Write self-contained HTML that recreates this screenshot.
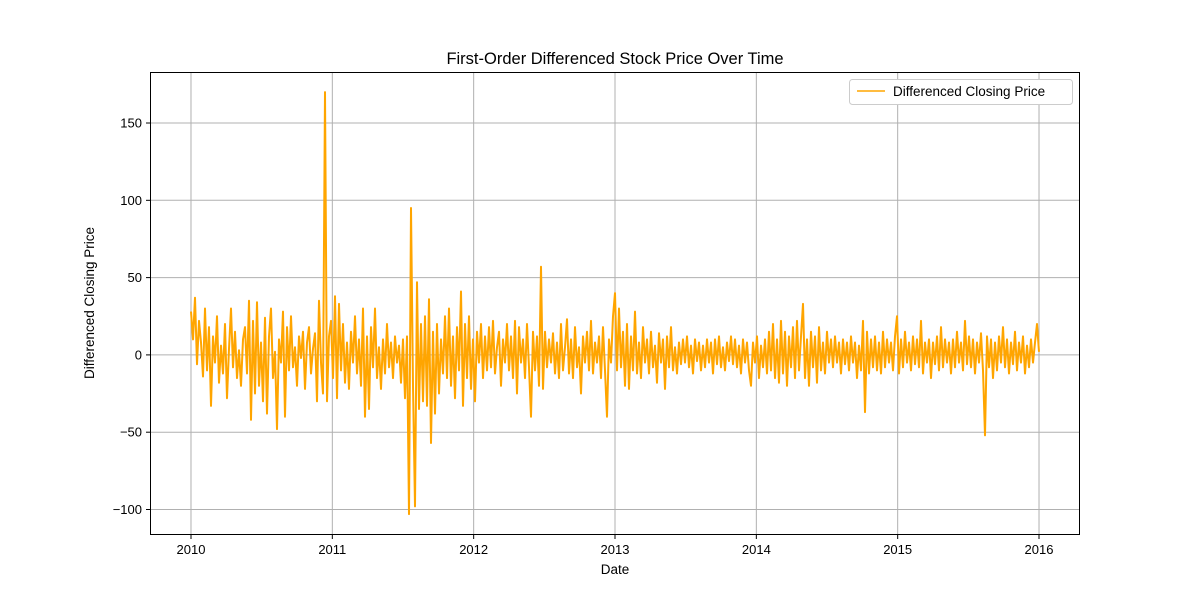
<!DOCTYPE html>
<html><head><meta charset="utf-8"><style>
body{margin:0;background:#fff}
svg text{font-family:"Liberation Sans","DejaVu Sans",sans-serif;fill:#000}
</style></head><body>
<svg id="chart" width="1200" height="600" xmlns="http://www.w3.org/2000/svg">
<rect width="1200" height="600" fill="#fff"/>
<g id="grid"></g>
<g id="series"></g>
<rect x="150.5" y="72.5" width="929" height="462" fill="none" stroke="#000" stroke-width="1"/>
<g id="axes"></g>
<text x="615" y="64" font-size="16.5" text-anchor="middle">First-Order Differenced Stock Price Over Time</text>
<text x="615" y="574" font-size="13.5" text-anchor="middle">Date</text>
<text transform="translate(94,303) rotate(-90)" font-size="13.5" text-anchor="middle">Differenced Closing Price</text>
<g>
<rect x="849.5" y="79.5" width="223" height="25" rx="3" fill="#fff" stroke="#ccc"/>
<line x1="857" y1="91" x2="885" y2="91" stroke="orange" stroke-width="1.5"/>
<text x="893" y="96" font-size="13.5">Differenced Closing Price</text>
</g>
</svg>
<script>
const values=[28,10,37,-6,22,8,-14,30,-10,18,
-33,12,-5,25,-18,6,-12,20,-28,4,
30,-8,15,-15,3,-20,10,18,-12,35,
-42,22,-25,34,-20,8,-30,24,-38,12,
30,-15,2,-48,10,-5,28,-40,18,-10,
25,-8,5,-20,12,-2,15,-22,8,18,
-12,4,14,-30,35,-5,-25,170,-30,12,
22,-15,38,-28,33,-10,20,-18,8,-22,
15,-5,25,-12,10,-20,30,-40,12,-35,
18,-8,30,-15,5,-22,10,-12,20,-8,
8,-15,12,-5,6,-18,10,-28,12,-103,
95,-20,-98,47,-35,20,-30,25,-33,36,
-57,15,-38,20,-25,10,-12,25,-15,30,
-20,12,-28,18,-10,41,-33,20,-15,25,
-22,10,-30,15,-5,20,-15,12,-10,18,
-8,22,-12,5,15,-20,10,-5,20,-10,
12,-15,22,-25,18,-5,10,-15,20,-8,
-40,15,-10,12,-20,57,-22,15,-8,10,
-5,14,-12,8,-15,20,-10,5,23,-12,
10,-15,18,-8,5,-25,12,-5,15,-10,
22,-12,8,-5,12,-15,18,-10,-40,10,
-5,25,40,-10,30,-8,15,-20,20,-22,
12,-10,28,-12,8,-15,18,-5,10,-12,
15,-8,6,-18,14,-5,10,-22,12,-8,
18,-10,5,-12,8,-6,10,-5,12,-8,
6,-12,10,-4,8,-10,6,-8,10,-5,
8,-12,10,-6,12,-8,5,-10,8,-4,
12,-6,10,-8,6,-12,10,-5,8,-10,
-20,8,-5,12,-15,6,-8,10,-12,15,
-10,20,-15,10,-18,22,-12,15,-20,12,
-8,18,-15,22,-10,12,33,-15,10,-20,
15,-8,12,-18,18,-10,8,-12,15,-5,
10,-8,12,-5,8,-12,10,-6,8,-10,
12,-5,8,-15,6,-10,22,-37,15,-12,
10,-8,12,-10,8,-12,15,-8,10,-5,
8,-10,12,25,-12,10,-8,15,-5,8,
-10,12,-6,10,-8,22,-12,8,-5,10,
-15,8,-6,12,-10,18,-8,10,-5,8,
-12,10,-8,15,-5,8,-10,22,-6,12,
-8,10,-12,8,-5,14,-10,-52,12,-8,
10,-15,8,-10,12,-5,18,-8,10,-12,
8,-6,15,-10,8,-5,12,-12,6,-8,
10,-5,8,20,2];
const startYear=2010, endYear=2016;
const xTicks=[2010,2011,2012,2013,2014,2015,2016];
const yTicks=[-100,-50,0,50,100,150];
const yTickLabels=["\u2212100","\u221250","0","50","100","150"];

const NS="http://www.w3.org/2000/svg";
const X0=150,X1=1080,Y0=72,Y1=535;
const xMin=2009.71,xMax=2016.29,yMin=-116.5,yMax=183;
const xs=v=>X0+(v-xMin)/(xMax-xMin)*(X1-X0);
const ys=v=>Y1-(v-yMin)/(yMax-yMin)*(Y1-Y0);
function mk(tag,attrs,parent){const e=document.createElementNS(NS,tag);for(const k in attrs)e.setAttribute(k,attrs[k]);parent.appendChild(e);return e;}
const grid=document.getElementById('grid'),axes=document.getElementById('axes'),series=document.getElementById('series');
xTicks.forEach(t=>{
  const x=xs(t);
  const g=mk('line',{x1:x,x2:x,y1:Y0,y2:Y1,stroke:'#b0b0b0','stroke-width':1},grid);
  
  
  const tk=mk('line',{x1:x,x2:x,y1:Y1,y2:Y1+4,stroke:'#000'},axes);
  
  
  const tx=mk('text',{x:x,y:Y1+19,'font-size':13,'text-anchor':'middle'},axes);
  tx.textContent=String(t);
  
  
});
yTicks.forEach((t,i)=>{
  const y=ys(t);
  const g=mk('line',{x1:X0,x2:X1,y1:y,y2:y,stroke:'#b0b0b0','stroke-width':1},grid);
  
  
  const tk=mk('line',{x1:X0-4,x2:X0,y1:y,y2:y,stroke:'#000'},axes);
  
  
  const tx=mk('text',{x:X0-8,y:y+4.5,'font-size':13,'text-anchor':'end'},axes);
  tx.textContent=yTickLabels[i];
  
  
});
const n=values.length;
const pts=values.map((v,i)=>{const d=startYear+(endYear-startYear)*i/(n-1);return xs(d).toFixed(1)+','+ys(v).toFixed(1);}).join(' ');
const line=mk('polyline',{points:pts,fill:'none',stroke:'orange','stroke-width':2,'stroke-linejoin':'round'},series);


</script>
</body></html>
